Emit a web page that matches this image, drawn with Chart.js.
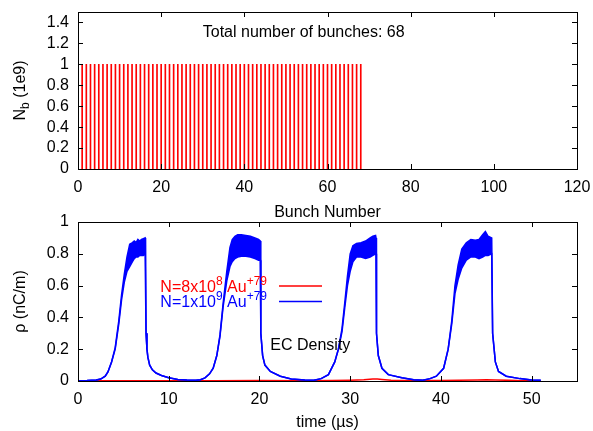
<!DOCTYPE html>
<html>
<head>
<meta charset="utf-8">
<script src="https://cdn.jsdelivr.net/npm/chart.js@4.4.1/dist/chart.umd.min.js"></script>
<style>
  html, body { margin: 0; padding: 0; background: #fff; }
  #wrap { position: relative; width: 593px; height: 431px; }
  #wrap canvas { position: absolute; left: 0; top: 0; }
</style>
</head>
<body>
<div id="wrap">
  <canvas id="bunchChart" width="593" height="431"></canvas>
  <canvas id="densityChart" width="593" height="431"></canvas>
</div>
<script>
// ---- top panel: bunch pattern ----
const bunchNumber = [1,2,3,4,5,6,7,8,9,10,11,12,13,14,15,16,17,18,19,20,21,22,23,24,25,26,27,28,29,30,31,32,33,34,
  35,36,37,38,39,40,41,42,43,44,45,46,47,48,49,50,51,52,53,54,55,56,57,58,59,60,61,62,63,64,65,66,67,68];
const bunchIntensity = [1,1,1,1,1,1,1,1,1,1,1,1,1,1,1,1,1,1,1,1,1,1,1,1,1,1,1,1,1,1,1,1,1,1,
  1,1,1,1,1,1,1,1,1,1,1,1,1,1,1,1,1,1,1,1,1,1,1,1,1,1,1,1,1,1,1,1,1,1];
const bunchTicks = [0, 20, 40, 60, 80, 100, 120];
const nbTicks = [0, 0.2, 0.4, 0.6, 0.8, 1, 1.2, 1.4];

// ---- bottom panel: EC density ----
// blue (N=1e9): the noisy plateau is kept as an upper and a lower envelope
const blueTime = [
  0,1,2,2.5,3,3.3,3.7,4.1,4.5,4.8,5.1,5.4,5.7,6.0,6.2,6.4,6.6,6.8,7.0,7.2,7.4,7.45,7.5,7.6,7.7,7.9,8.2,8.6,9.2,10,11,12,13,
  13.5,14,14.5,14.9,15.3,15.65,16.0,16.4,16.75,17.0,17.3,17.6,18.0,18.5,19.0,19.5,19.9,20.1,20.15,20.35,20.6,21.2,22.3,23.5,25,26,
  26.8,27.6,28.3,28.7,29.1,29.4,29.7,30.0,30.3,30.7,31.2,31.7,32.2,32.5,32.8,32.85,32.9,33.1,33.5,34.2,35.7,37,38,
  38.8,39.5,40.3,40.8,41.2,41.55,41.9,42.3,42.8,43.3,43.8,44.2,44.6,44.9,45.2,45.6,45.7,46.0,46.35,47.2,48.7,50,51];
const blueUpper = [
  0.002,0.003,0.006,0.012,0.03,0.057,0.12,0.21,0.38,0.54,0.67,0.78,0.86,0.87,0.88,0.87,0.89,0.88,0.89,0.895,0.9,0.88,0.3,0.2,0.15,0.1,0.07,0.05,0.035,0.02,0.01,0.006,0.005,
  0.008,0.02,0.045,0.08,0.16,0.29,0.49,0.69,0.84,0.89,0.91,0.92,0.92,0.915,0.91,0.9,0.89,0.88,0.3,0.16,0.1,0.06,0.03,0.012,0.006,0.005,
  0.015,0.04,0.12,0.2,0.33,0.49,0.66,0.8,0.85,0.865,0.87,0.88,0.9,0.91,0.915,0.9,0.3,0.16,0.08,0.04,0.02,0.008,0.005,
  0.015,0.03,0.08,0.2,0.38,0.6,0.73,0.83,0.87,0.89,0.885,0.89,0.92,0.94,0.91,0.9,0.3,0.12,0.06,0.03,0.015,0.007,0.004];
const blueLower = [
  0.002,0.003,0.006,0.012,0.03,0.057,0.12,0.2,0.36,0.51,0.62,0.69,0.72,0.75,0.77,0.78,0.78,0.79,0.79,0.79,0.8,0.8,0.3,0.2,0.15,0.1,0.07,0.05,0.035,0.02,0.01,0.006,0.005,
  0.008,0.02,0.045,0.08,0.16,0.28,0.47,0.63,0.72,0.75,0.77,0.78,0.785,0.785,0.78,0.77,0.76,0.76,0.3,0.16,0.1,0.06,0.03,0.012,0.006,0.005,
  0.015,0.04,0.12,0.2,0.31,0.46,0.6,0.69,0.75,0.78,0.78,0.77,0.78,0.79,0.8,0.8,0.3,0.16,0.08,0.04,0.02,0.008,0.005,
  0.015,0.03,0.08,0.2,0.36,0.55,0.64,0.71,0.76,0.78,0.78,0.77,0.78,0.79,0.79,0.8,0.3,0.12,0.06,0.03,0.015,0.007,0.004];
// red (N=8e8)
const redTime = [0,5,10,15,20,25,28,30,31.5,32.5,33,33.5,34.5,36,40,42,44,45,46,47.5,49,51];
const redRho  = [0.001,0.002,0.002,0.002,0.003,0.002,0.003,0.005,0.008,0.012,0.013,0.01,0.005,0.003,0.003,0.005,0.007,0.008,0.007,0.004,0.002,0.001];
const timeTicks = [0, 10, 20, 30, 40, 50];
const rhoTicks = [0, 0.2, 0.4, 0.6, 0.8, 1];

const FONT = '"Liberation Sans", Arial, sans-serif';
Chart.defaults.font.family = FONT;
Chart.defaults.font.size = 16;
Chart.defaults.color = '#000';

const pts = (xs, ys) => xs.map((x, i) => ({ x: x, y: ys[i] }));
const useTicks = arr => scale => { scale.ticks = arr.map(v => ({ value: v })); };
const plainLabel = v => String(v);

function richWidth(ctx, parts) {
  let w = 0;
  parts.forEach(p => { ctx.font = p[1] + 'px ' + FONT; w += ctx.measureText(p[0]).width; });
  return w;
}
function drawRich(ctx, parts, x, y, align) {
  const w = richWidth(ctx, parts);
  let cx = align === 'right' ? x - w : align === 'center' ? x - w / 2 : x;
  ctx.textAlign = 'left';
  ctx.textBaseline = 'alphabetic';
  parts.forEach(p => {
    ctx.font = p[1] + 'px ' + FONT;
    ctx.fillText(p[0], cx, y + p[2]);
    cx += ctx.measureText(p[0]).width;
  });
}

// gnuplot style box, inward ticks on all sides, titles and labels
const framePlugin = {
  id: 'frame',
  afterDatasetsDraw(chart, args, o) {
    const ctx = chart.ctx, a = chart.chartArea;
    const xs = chart.scales.x, ys = chart.scales.y;
    ctx.save();
    ctx.strokeStyle = '#000';
    ctx.lineWidth = 1;
    ctx.strokeRect(Math.round(a.left) + 0.5, Math.round(a.top) + 0.5,
                   Math.round(a.right - a.left), Math.round(a.bottom - a.top));
    ctx.beginPath();
    xs.ticks.forEach(t => {
      const p = Math.round(xs.getPixelForValue(t.value)) + 0.5;
      ctx.moveTo(p, a.bottom); ctx.lineTo(p, a.bottom - 5);
      ctx.moveTo(p, a.top); ctx.lineTo(p, a.top + 5);
    });
    ys.ticks.forEach(t => {
      const p = Math.round(ys.getPixelForValue(t.value)) + 0.5;
      ctx.moveTo(a.left, p); ctx.lineTo(a.left + 5, p);
      ctx.moveTo(a.right, p); ctx.lineTo(a.right - 5, p);
    });
    ctx.stroke();

    ctx.fillStyle = '#000';
    drawRich(ctx, [[o.xTitle, 16, 0]], (a.left + a.right) / 2, o.xTitleY, 'center');
    ctx.save();
    ctx.translate(o.yTitleX, (a.top + a.bottom) / 2);
    ctx.rotate(-Math.PI / 2);
    drawRich(ctx, o.yTitle, 0, 0, 'center');
    ctx.restore();

    (o.notes || []).forEach(n => {
      drawRich(ctx, [[n.text, 16, 0]], xs.getPixelForValue(n.x), ys.getPixelForValue(n.y), 'left');
    });
    (o.keys || []).forEach(k => {
      ctx.fillStyle = k.color;
      drawRich(ctx, k.parts, o.keyTextRight, k.y, 'right');
      ctx.strokeStyle = k.color;
      ctx.lineWidth = 1.5;
      ctx.beginPath();
      ctx.moveTo(o.keyLine[0], k.y - 5.5);
      ctx.lineTo(o.keyLine[1], k.y - 5.5);
      ctx.stroke();
    });
    ctx.restore();
  }
};

const axisBase = {
  type: 'linear',
  grid: { display: false, drawTicks: false },
  border: { display: false }
};
// keep the plot box fixed: no extra room for overhanging end labels
const fixX = h => s => { s.height = h; s.paddingLeft = 0; s.paddingRight = 0; };
const fixY = w => s => { s.width = w; s.paddingTop = 0; s.paddingBottom = 0; };

new Chart(document.getElementById('bunchChart'), {
  type: 'bar',
  data: {
    datasets: [{
      data: pts(bunchNumber, bunchIntensity),
      backgroundColor: '#ff0000',
      borderWidth: 0,
      barThickness: 1
    }]
  },
  options: {
    responsive: false,
    animation: false,
    layout: { padding: { top: 12, right: 16, bottom: 215, left: 0 } },
    plugins: {
      legend: { display: false },
      tooltip: { enabled: false },
      frame: {
        xTitle: 'Bunch Number', xTitleY: 217,
        yTitle: [['N', 16, 0], ['b', 12, 4], [' (1e9)', 16, 0]], yTitleX: 25,
        notes: [{ text: 'Total number of bunches: 68', x: 30, y: 1.265 }]
      }
    },
    scales: {
      x: Object.assign({}, axisBase, {
        min: 0, max: 120, offset: false,
        ticks: { padding: 9, autoSkip: false, maxRotation: 0, callback: plainLabel },
        afterBuildTicks: useTicks(bunchTicks),
        afterFit: fixX(47)
      }),
      y: Object.assign({}, axisBase, {
        min: 0, max: 1.5,
        ticks: { padding: 9, autoSkip: false, callback: plainLabel },
        afterBuildTicks: useTicks(nbTicks),
        afterFit: fixY(78)
      })
    }
  },
  plugins: [framePlugin]
});

new Chart(document.getElementById('densityChart'), {
  type: 'line',
  data: {
    datasets: [
      { data: pts(blueTime, blueUpper), borderColor: '#0000ff', backgroundColor: '#0000ff',
        borderWidth: 1.5, pointRadius: 0, fill: '+1', order: 1 },
      { data: pts(blueTime, blueLower), borderColor: '#0000ff', borderWidth: 1.5,
        pointRadius: 0, fill: false, order: 1 },
      { data: pts(redTime, redRho), borderColor: '#ff0000', borderWidth: 1.5,
        pointRadius: 0, fill: false, order: 2 }
    ]
  },
  options: {
    responsive: false,
    animation: false,
    layout: { padding: { top: 222, right: 16, bottom: 0, left: 0 } },
    elements: { line: { tension: 0 } },
    plugins: {
      legend: { display: false },
      tooltip: { enabled: false },
      frame: {
        xTitle: 'time (\u00b5s)', xTitleY: 427,
        yTitle: [['\u03c1 (nC/m)', 16, 0]], yTitleX: 25,
        notes: [{ text: 'EC Density', x: 21.2, y: 0.195 }],
        keyTextRight: 267, keyLine: [279, 322],
        keys: [
          { color: '#ff0000', y: 291.5, parts: [['N=8x10', 16, 0], ['8', 12, -7], [' Au', 16, 0], ['+79', 12, -7]] },
          { color: '#0000ff', y: 307, parts: [['N=1x10', 16, 0], ['9', 12, -7], [' Au', 16, 0], ['+79', 12, -7]] }
        ]
      }
    },
    scales: {
      x: Object.assign({}, axisBase, {
        min: 0, max: 55,
        ticks: { padding: 9, autoSkip: false, maxRotation: 0, callback: plainLabel },
        afterBuildTicks: useTicks(timeTicks),
        afterFit: fixX(50)
      }),
      y: Object.assign({}, axisBase, {
        min: 0, max: 1,
        ticks: { padding: 9, autoSkip: false, callback: plainLabel },
        afterBuildTicks: useTicks(rhoTicks),
        afterFit: fixY(78)
      })
    }
  },
  plugins: [framePlugin]
});
</script>
</body>
</html>
